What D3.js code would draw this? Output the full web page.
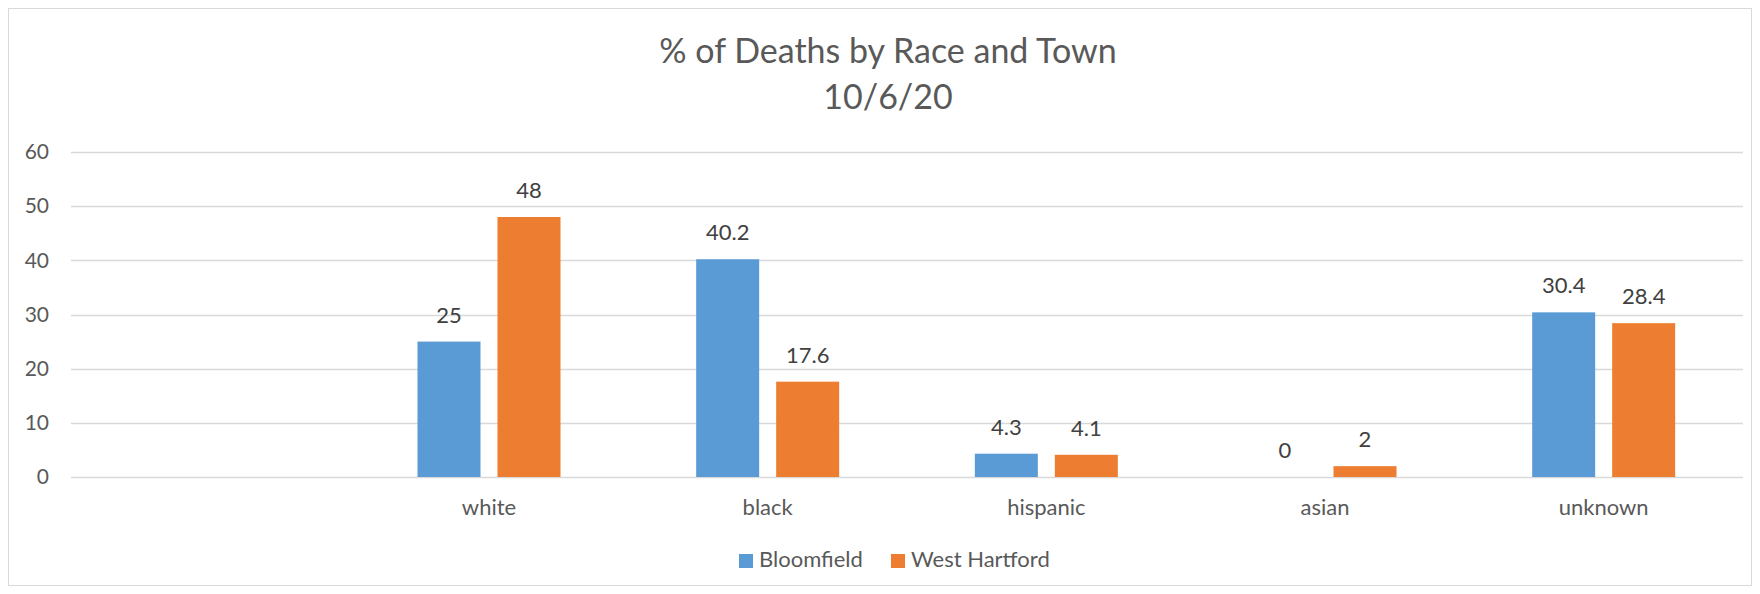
<!DOCTYPE html>
<html>
<head>
<meta charset="utf-8">
<script src="https://cdn.jsdelivr.net/npm/d3@7"></script>
<style>
  body { margin: 0; background: #fff; }
  text { font-family: Lato, "Open Sans", sans-serif; }
</style>
</head>
<body>
<div id="chart"></div>
<script>
// data
var categories = ["", "white", "black", "hispanic", "asian", "unknown"];
var seriesNames = ["Bloomfield", "West Hartford"];
var bloomfield = [null, 25, 40.2, 4.3, 0, 30.4];
var westHartford = [null, 48, 17.6, 4.1, 2, 28.4];
var yTicks = [0, 10, 20, 30, 40, 50, 60];
var colors = ["#5B9BD5", "#ED7D31"];

var width = 1760, height = 594;
var margin = {top: 152, right: 17, bottom: 117, left: 71};

var svg = d3.select("#chart").append("svg")
    .attr("width", width)
    .attr("height", height);

// chart border
svg.append("rect")
    .attr("x", 8.5).attr("y", 8.5)
    .attr("width", width - 17).attr("height", height - 17)
    .attr("fill", "#fff")
    .attr("stroke", "#D9D9D9");

// title, two lines
var titleX = 888;
svg.append("text")
    .attr("x", titleX).attr("y", 63)
    .attr("text-anchor", "middle")
    .attr("font-size", "34px")
    .attr("fill", "#595959")
    .text("% of Deaths by Race and Town");
svg.append("text")
    .attr("x", titleX).attr("y", 109)
    .attr("text-anchor", "middle")
    .attr("font-size", "34px")
    .attr("fill", "#595959")
    .text("10/6/20");

var x0 = d3.scaleBand().domain(categories)
    .range([margin.left, width - margin.right]);
var y = d3.scaleLinear().domain([0, 60])
    .range([height - margin.bottom, margin.top]);

// gridlines
svg.append("g").selectAll("line")
    .data(yTicks)
    .enter().append("line")
    .attr("x1", margin.left).attr("x2", width - margin.right)
    .attr("y1", function(d) { return Math.round(y(d)) + 0.5; })
    .attr("y2", function(d) { return Math.round(y(d)) + 0.5; })
    .attr("stroke", "#D9D9D9")
    .attr("stroke-width", 1.5);

// y axis labels
var yAxis = svg.append("g")
    .attr("transform", "translate(" + (margin.left - 22) + ",0)")
    .call(d3.axisLeft(y).tickValues(yTicks).tickSize(0).tickPadding(0));
yAxis.select(".domain").remove();
yAxis.selectAll("text")
    .attr("font-family", "Lato, sans-serif")
    .attr("font-size", "21px")
    .attr("fill", "#595959");

// x axis labels
var xAxis = svg.append("g")
    .attr("transform", "translate(0," + y(0) + ")")
    .call(d3.axisBottom(x0).tickSize(0).tickPadding(22));
xAxis.select(".domain").remove();
xAxis.selectAll("text")
    .attr("font-family", "Lato, sans-serif")
    .attr("font-size", "22px")
    .attr("fill", "#595959");

// bars, two per category
var barW = 63, barGap = 17;
var series = [bloomfield, westHartford];
series.forEach(function(vals, s) {
  var offset = s === 0 ? -barGap / 2 - barW : barGap / 2;
  var rows = categories.map(function(c, i) { return {cat: c, v: vals[i]}; })
      .filter(function(d) { return d.v !== null; });
  svg.append("g").selectAll("rect")
      .data(rows)
      .enter().append("rect")
      .attr("x", function(d) { return x0(d.cat) + x0.bandwidth() / 2 + offset; })
      .attr("y", function(d) { return y(d.v); })
      .attr("width", barW)
      .attr("height", function(d) { return y(0) - y(d.v); })
      .attr("fill", colors[s]);
  // value labels
  svg.append("g").selectAll("text")
      .data(rows)
      .enter().append("text")
      .attr("x", function(d) { return x0(d.cat) + x0.bandwidth() / 2 + offset + barW / 2; })
      .attr("y", function(d) { return y(d.v) - 19; })
      .attr("text-anchor", "middle")
      .attr("font-size", "22px")
      .attr("fill", "#404040")
      .text(function(d) { return d.v; });
});

// legend
var legendX = [739, 891];
var legend = svg.append("g");
seriesNames.forEach(function(name, i) {
  legend.append("rect")
      .attr("x", legendX[i]).attr("y", 554)
      .attr("width", 14).attr("height", 14)
      .attr("fill", colors[i]);
  legend.append("text")
      .attr("x", legendX[i] + 20).attr("y", 567)
      .attr("font-size", "22px")
      .attr("fill", "#595959")
      .text(name);
});
</script>
</body>
</html>
